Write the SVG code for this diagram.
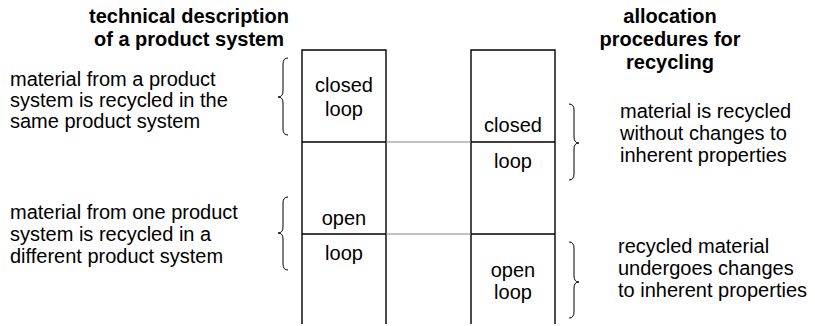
<svg xmlns="http://www.w3.org/2000/svg" width="815" height="326" viewBox="0 0 815 326">
<style>
text{font-family:"Liberation Sans",Arial,sans-serif;font-size:20px;fill:#000}
.t{font-weight:bold;text-anchor:middle}
.c{text-anchor:middle}
.col{fill:none;stroke:#000;stroke-width:1.4}
.link{stroke:#888;stroke-width:1.2;fill:none}
.brace{fill:none;stroke:#000;stroke-width:1}
</style>
<rect width="815" height="326" fill="#fff"/>
<g id="title-left"><text class="t" x="189" y="23">technical description</text><text class="t" x="189" y="46">of a product system</text></g>
<g id="title-right"><text class="t" x="670" y="23">allocation</text><text class="t" x="670" y="46">procedures for</text><text class="t" x="670" y="69">recycling</text></g>
<g id="desc-left-closed"><text x="10" y="86">material from a product</text><text x="10" y="107">system is recycled in the</text><text x="10" y="128">same product system</text>
<path class="brace" d="M288,58 Q283,58 283,64 L283,91 Q283,97 278,97 Q283,97 283,103 L283,129 Q283,135 288,135"/></g>
<g id="desc-left-open"><text x="10" y="219">material from one product</text><text x="10" y="241">system is recycled in a</text><text x="10" y="263">different product system</text>
<path class="brace" d="M288,197 Q283,197 283,203 L283,227 Q283,233 278,233 Q283,233 283,239 L283,264 Q283,270 288,270"/></g>
<g id="column-left">
<path class="col" d="M302,324 L302,50 L386,50 L386,324 M302,142 L386,142 M302,234 L386,234"/>
<text class="c" x="344" y="92">closed</text><text class="c" x="344" y="116">loop</text>
<text class="c" x="344" y="225">open</text><text class="c" x="344" y="260">loop</text>
</g>
<g id="column-right">
<path class="col" d="M471,324 L471,50 L555,50 L555,324 M471,142 L555,142 M471,234 L555,234"/>
<text class="c" x="513" y="132">closed</text><text class="c" x="513" y="168">loop</text>
<text class="c" x="513" y="277">open</text><text class="c" x="513" y="299">loop</text>
</g>
<g id="desc-right-closed"><text x="620" y="118">material is recycled</text><text x="620" y="140">without changes to</text><text x="620" y="162">inherent properties</text>
<path class="brace" d="M569,104 Q574,104 574,110 L574,137 Q574,143 579,143 Q574,143 574,149 L574,174 Q574,180 569,180"/></g>
<g id="desc-right-open"><text x="618" y="253">recycled material</text><text x="618" y="275">undergoes changes</text><text x="618" y="297">to inherent properties</text>
<path class="brace" d="M569,242 Q574,242 574,248 L574,276 Q574,282 579,282 Q574,282 574,288 L574,312 Q574,318 569,318"/></g>
<g id="connectors">
<line class="link" x1="386" y1="142" x2="471" y2="142"/>
<line class="link" x1="386" y1="234" x2="471" y2="234"/>
</g>
</svg>
